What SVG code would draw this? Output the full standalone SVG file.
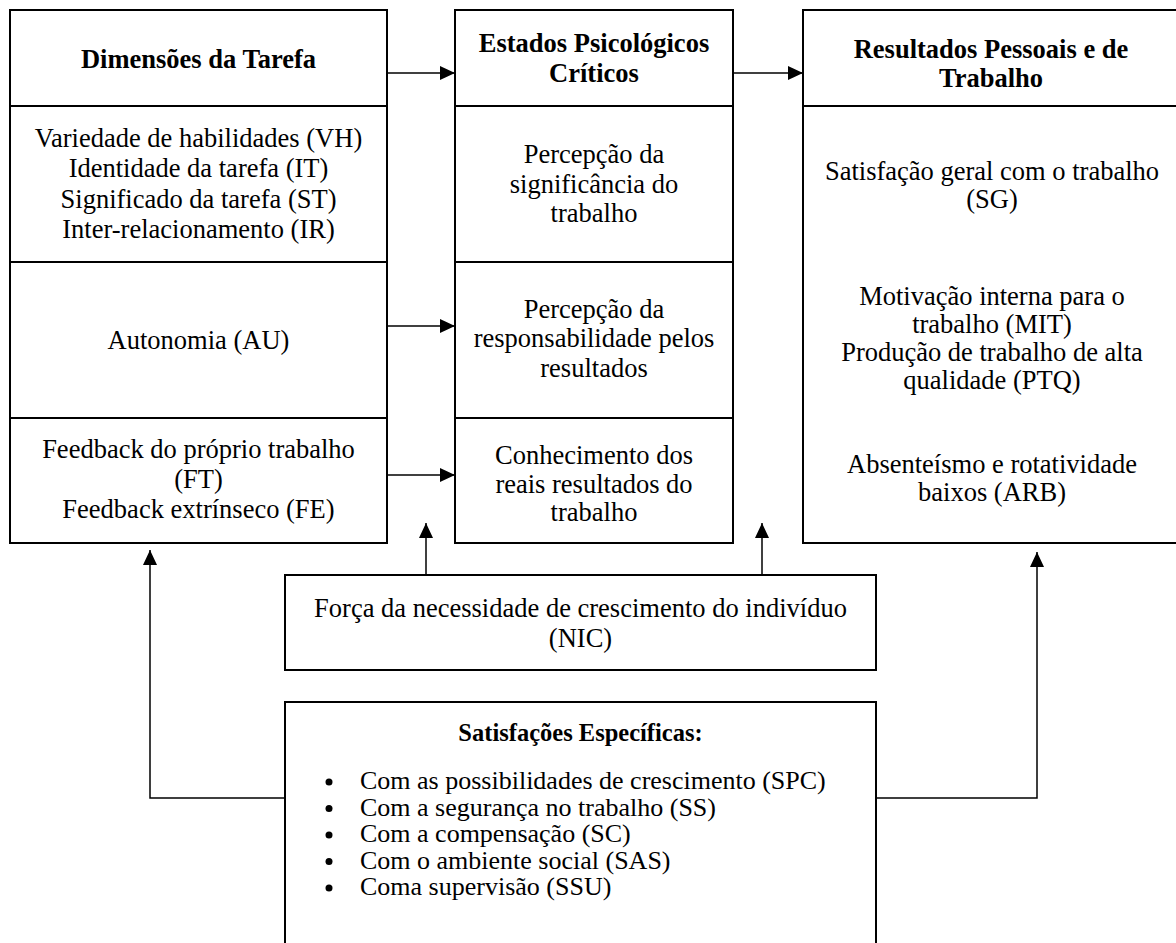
<svg xmlns="http://www.w3.org/2000/svg" width="1176" height="943" viewBox="0 0 1176 943">
<style>
.box{fill:#fff;stroke:#000;stroke-width:2}
.dv{stroke:#000;stroke-width:2}
.t{font-family:"Liberation Serif","Times New Roman",serif;font-size:26.5px;text-anchor:middle;fill:#000}
.s{font-family:"Liberation Serif","Times New Roman",serif;font-size:26px;fill:#000}
.b{font-weight:bold}
.c{stroke:#000;stroke-width:1.5;fill:none}
.a{marker-end:url(#ah)}
</style>
<defs>
<marker id="ah" markerUnits="userSpaceOnUse" markerWidth="16" markerHeight="14" refX="15" refY="7" orient="auto">
<path d="M0,0 L15,7 L0,14 z" fill="#000"/>
</marker>
</defs>
<rect width="1176" height="943" fill="#fff"/>
<g id="dimensoes">
<rect class="box" x="10" y="10" width="377" height="533"/>
<line class="dv" x1="10" y1="106" x2="387" y2="106"/>
<line class="dv" x1="10" y1="262" x2="387" y2="262"/>
<line class="dv" x1="10" y1="418" x2="387" y2="418"/>
<text class="t b" x="198.5" y="68">Dimensões da Tarefa</text>
<text class="t" x="198.5" y="147">Variedade de habilidades (VH)</text>
<text class="t" x="198.5" y="177">Identidade da tarefa (IT)</text>
<text class="t" x="198.5" y="207.5">Significado da tarefa (ST)</text>
<text class="t" x="198.5" y="238">Inter-relacionamento (IR)</text>
<text class="t" x="198.5" y="349">Autonomia (AU)</text>
<text class="t" x="198.5" y="458">Feedback do próprio trabalho</text>
<text class="t" x="198.5" y="488">(FT)</text>
<text class="t" x="198.5" y="518">Feedback extrínseco (FE)</text>
</g>
<g id="estados">
<rect class="box" x="455" y="10" width="278" height="533"/>
<line class="dv" x1="455" y1="106" x2="733" y2="106"/>
<line class="dv" x1="455" y1="262" x2="733" y2="262"/>
<line class="dv" x1="455" y1="418" x2="733" y2="418"/>
<text class="t b" x="594" y="52">Estados Psicológicos</text>
<text class="t b" x="594" y="82">Críticos</text>
<text class="t" x="594" y="163">Percepção da</text>
<text class="t" x="594" y="193">significância do</text>
<text class="t" x="594" y="222">trabalho</text>
<text class="t" x="594" y="318">Percepção da</text>
<text class="t" x="594" y="347">responsabilidade pelos</text>
<text class="t" x="594" y="377">resultados</text>
<text class="t" x="594" y="464">Conhecimento dos</text>
<text class="t" x="594" y="492.5">reais resultados do</text>
<text class="t" x="594" y="521">trabalho</text>
</g>
<g id="resultados">
<rect class="box" x="803" y="10" width="377" height="533"/>
<line class="dv" x1="803" y1="106" x2="1180" y2="106"/>
<text class="t b" x="991" y="58">Resultados Pessoais e de</text>
<text class="t b" x="991" y="87">Trabalho</text>
<text class="t" x="992" y="180">Satisfação geral com o trabalho</text>
<text class="t" x="992" y="208">(SG)</text>
<text class="t" x="992" y="305">Motivação interna para o</text>
<text class="t" x="992" y="333">trabalho (MIT)</text>
<text class="t" x="992" y="361">Produção de trabalho de alta</text>
<text class="t" x="992" y="389">qualidade (PTQ)</text>
<text class="t" x="992" y="473">Absenteísmo e rotatividade</text>
<text class="t" x="992" y="501">baixos (ARB)</text>
</g>
<g id="nic">
<rect class="box" x="285" y="575" width="591" height="95"/>
<text class="t" x="580.5" y="617">Força da necessidade de crescimento do indivíduo</text>
<text class="t" x="580.5" y="647">(NIC)</text>
</g>
<g id="satisfacoes">
<rect class="box" x="285" y="702" width="591" height="260"/>
<text class="t b" x="580.5" y="741" style="font-size:24.5px">Satisfações Específicas:</text>
<circle cx="329" cy="782" r="3.5"/>
<circle cx="329" cy="808.5" r="3.5"/>
<circle cx="329" cy="835" r="3.5"/>
<circle cx="329" cy="861.5" r="3.5"/>
<circle cx="329" cy="888" r="3.5"/>
<text class="s" x="360" y="789">Com as possibilidades de crescimento (SPC)</text>
<text class="s" x="360" y="815.5">Com a segurança no trabalho (SS)</text>
<text class="s" x="360" y="842">Com a compensação (SC)</text>
<text class="s" x="360" y="868.5">Com o ambiente social (SAS)</text>
<text class="s" x="360" y="895">Coma supervisão (SSU)</text>
</g>
<g id="connectors">
<path class="c a" d="M387,73 H455"/>
<path class="c a" d="M733,73 H803"/>
<path class="c a" d="M387,326 H455"/>
<path class="c a" d="M387,475 H455"/>
<path class="c a" d="M426,575 V523"/>
<path class="c a" d="M762,575 V523"/>
<path class="c a" d="M285,798 H150 V550"/>
<path class="c a" d="M876,798 H1037 V552"/>
</g>
</svg>
